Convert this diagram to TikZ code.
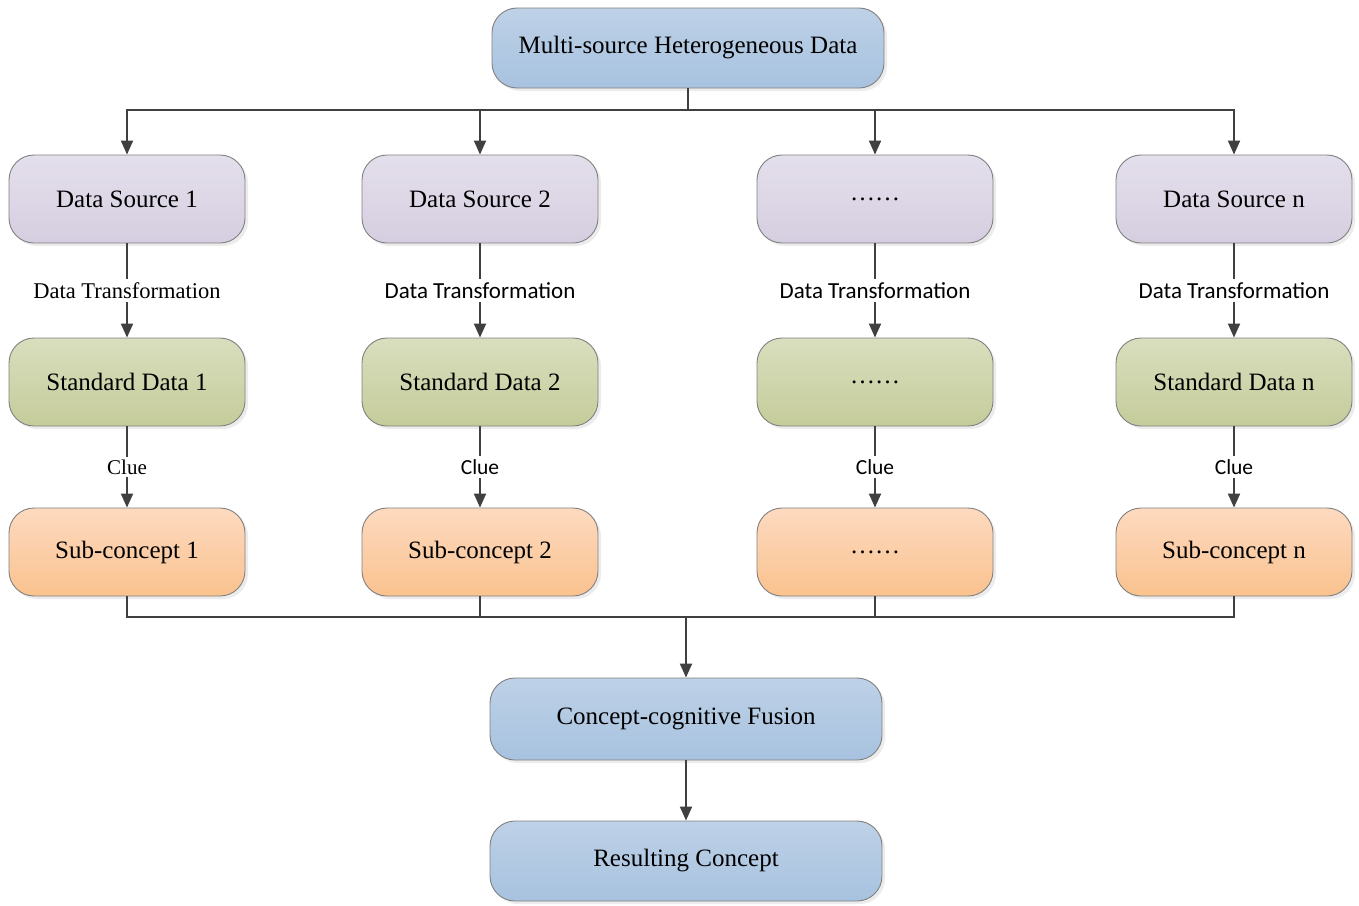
\documentclass[tikz,border=0pt]{standalone}
\usepackage{fontspec}
\setmainfont{Liberation Serif}
\newfontfamily\lblsans{Carlito}
\usetikzlibrary{arrows.meta,shadows}
\definecolor{bluetop}{HTML}{BED1E7}
\definecolor{bluebot}{HTML}{A7C2DF}
\definecolor{lavtop}{HTML}{E4DFEC}
\definecolor{lavbot}{HTML}{D5CEE0}
\definecolor{greentop}{HTML}{D9DEBE}
\definecolor{greenbot}{HTML}{C5CC9A}
\definecolor{orgtop}{HTML}{FDDAC0}
\definecolor{orgbot}{HTML}{FAC28E}
\definecolor{linec}{HTML}{404040}
\tikzset{
  box/.style={draw=black!50, line width=0.9pt, rounded corners=25pt,
    minimum width=236pt, minimum height=88pt, inner sep=0pt,
    font=\fontsize{25}{28}\selectfont,
    drop shadow={shadow xshift=3pt, shadow yshift=-3pt, fill=black!14}},
  widebox/.style={box, minimum width=392pt, top color=bluetop, bottom color=bluebot},
  srcbox/.style={box, top color=lavtop, bottom color=lavbot},
  stdbox/.style={box, top color=greentop, bottom color=greenbot},
  subbox/.style={box, top color=orgtop, bottom color=orgbot},
  conn/.style={draw=linec, line width=2pt},
  arr/.style={conn, -{Triangle[length=14pt,width=12pt]}},
  lblserif/.style={fill=white, inner sep=3pt, font=\fontsize{22.5}{26}\selectfont},
  lblsf/.style={fill=white, inner sep=3pt, font=\lblsans\fontsize{23}{26}\selectfont},
  clueserif/.style={fill=white, inner sep=3pt, font=\fontsize{21}{24}\selectfont},
  cluesf/.style={fill=white, inner sep=3pt, font=\lblsans\fontsize{21.5}{24}\selectfont},
}
\begin{document}
\begin{tikzpicture}[x=1pt,y=-1pt]
\useasboundingbox[fill=white] (0,0) rectangle (1359,905);

% top and bottom stages
\node[widebox, minimum height=80pt] (src) at (688,48) {Multi-source Heterogeneous Data};
\node[widebox, minimum height=82pt] (fus) at (686,719) {Concept-cognitive Fusion};
\node[widebox, minimum height=80pt] (res) at (686,861) {Resulting Concept};

% four parallel columns
\node[srcbox] (ds1) at (127,199) {Data Source 1};
\node[srcbox] (ds2) at (480,199) {Data Source 2};
\node[srcbox] (ds3) at (875,199) {\ldots\ldots};
\node[srcbox] (ds4) at (1234,199) {Data Source n};

\node[stdbox] (sd1) at (127,382) {Standard Data 1};
\node[stdbox] (sd2) at (480,382) {Standard Data 2};
\node[stdbox] (sd3) at (875,382) {\ldots\ldots};
\node[stdbox] (sd4) at (1234,382) {Standard Data n};

\node[subbox] (sc1) at (127,552) {Sub-concept 1};
\node[subbox] (sc2) at (480,552) {Sub-concept 2};
\node[subbox] (sc3) at (875,552) {\ldots\ldots};
\node[subbox] (sc4) at (1234,552) {Sub-concept n};

% distribution bus
\coordinate (tj) at (688,110);
\draw[conn] (src.south) -- (tj);
\foreach \n in {ds1,ds2,ds3,ds4} \draw[arr] (tj) -| (\n.north);

% per-column transformations
\draw[arr] (ds1) -- node[lblserif] {Data Transformation} (sd1);
\draw[arr] (ds2) -- node[lblsf] {Data Transformation} (sd2);
\draw[arr] (ds3) -- node[lblsf] {Data Transformation} (sd3);
\draw[arr] (ds4) -- node[lblsf] {Data Transformation} (sd4);

\draw[arr] (sd1) -- node[clueserif] {Clue} (sc1);
\draw[arr] (sd2) -- node[cluesf] {Clue} (sc2);
\draw[arr] (sd3) -- node[cluesf] {Clue} (sc3);
\draw[arr] (sd4) -- node[cluesf] {Clue} (sc4);

% collecting bus
\coordinate (bj) at (686,617);
\foreach \n in {sc1,sc2,sc3,sc4} \draw[conn] (\n.south) |- (bj);
\draw[arr] (bj) -- (fus.north);
\draw[arr] (fus) -- (res);
\end{tikzpicture}
\end{document}
